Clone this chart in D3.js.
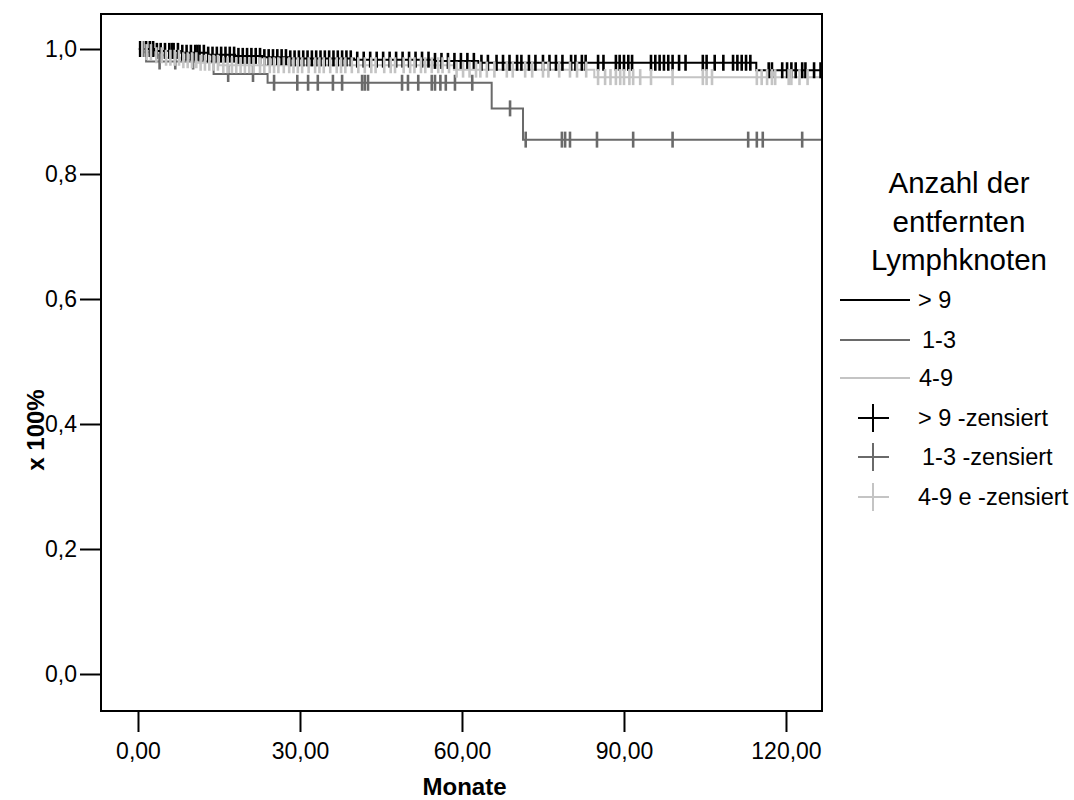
<!DOCTYPE html>
<html><head><meta charset="utf-8">
<script src="https://cdn.jsdelivr.net/npm/d3@7"></script>
<style>body{margin:0;background:#fff}text{font-family:"Liberation Sans",Arial,sans-serif}</style>
</head><body>
<svg id="c" width="1074" height="800"></svg>
<script>
// ---- data ----
const groups = ["> 9", "1-3", "4-9"];
const censorLabels = ["> 9 -zensiert", "1-3 -zensiert", "4-9 e -zensiert"];
const legendTitle = ["Anzahl der", "entfernten", "Lymphknoten"];
const xTicks = [0, 30, 60, 90, 120];
const yTicks = [0, 0.2, 0.4, 0.6, 0.8, 1.0];
const xTitle = "Monate";
const yTitle = "x 100%";

// step functions (time in months, survival)
const gt9Times = [0, 3, 8, 13, 18, 23, 28, 40, 55, 63, 114.5];
const gt9Surv  = [1.0, 0.997, 0.994, 0.991, 0.989, 0.987, 0.985, 0.983, 0.981, 0.978, 0.966];
const g13Times = [0, 1.5, 14, 24, 65.5, 71.3];
const g13Surv  = [1.0, 0.98, 0.96, 0.946, 0.905, 0.855];
const g49Times = [0, 1, 3, 5, 8, 11, 15, 58.5, 84.5];
const g49Surv  = [1.0, 0.995, 0.99, 0.986, 0.982, 0.978, 0.974, 0.967, 0.955];
const gt9End = 126.6, g13End = 126.6, g49End = 126.6;

// censored times
const gt9Cens = [0.4,0.9,1.5,2.2,2.8,3.5,4.2,5.0,5.8,6.3,6.6,7.4,8.2,9.0,9.8,10.6,11.0,11.4,12.2,13.0,13.8,14.6,15.4,16.2,17.0,17.8,18.6,19.4,20.2,21.0,21.8,22.6,23.4,24.2,25.0,25.8,26.6,27.4,28.2,29.0,29.8,30.6,31.4,32.2,33.0,33.8,34.6,35.4,36.2,37.0,37.8,38.6,39.4,40.6,41.8,43.0,44.2,45.4,46.6,47.8,49.0,50.2,51.4,52.6,53.8,55.0,56.2,57.4,58.6,59.8,61.0,62.2,63.6,64.8,66.4,67.6,68.8,70.2,71.0,72.4,73.6,75.0,76.2,77.4,78.6,80.2,81.0,82.2,82.9,85.2,86.2,88.5,89.2,90.0,90.8,91.5,95.0,95.8,96.6,97.4,98.2,99.0,100.2,101.4,104.6,105.3,106.8,108.4,110.2,111.0,111.8,112.6,113.4,116.8,117.4,119.3,120.2,121.0,121.8,123.0,123.6,125.2,126.4];
const g13Cens = [4.0,6.9,10.2,16.7,21.3,25.2,29.5,31.5,33.3,36.1,37.8,41.5,42.0,42.6,48.9,50.0,51.9,54.4,55.0,56.0,57.0,58.7,61.9,68.9,71.8,78.5,79.1,80.0,85.0,91.7,99.0,113.0,114.6,115.7,123.0];
const g49Cens = [0.8,1.6,2.4,3.4,4.4,5.2,6.0,6.8,7.6,8.4,9.2,10.0,10.8,11.6,12.4,13.2,14.0,14.8,15.8,16.6,17.4,18.2,19.0,19.8,20.6,21.4,22.6,23.4,24.4,25.2,26.0,27.0,28.0,28.8,29.6,30.4,31.6,32.8,33.6,34.4,35.6,36.8,37.6,38.4,39.6,40.8,42.0,43.2,44.0,45.6,46.8,47.6,49.2,50.4,51.2,52.4,53.2,54.4,55.6,56.4,57.6,59.0,60.2,61.4,62.6,63.4,64.6,66.0,68.3,69.4,71.7,73.0,75.0,76.0,78.0,80.0,81.3,83.0,85.2,86.5,87.5,88.5,89.3,90.0,91.0,91.7,93.0,95.0,99.0,104.6,105.3,106.3,114.6,115.5,116.5,117.4,118.0,120.5,121.0,122.5,124.0];

const colors = ["#000000", "#6a6a6a", "#c4c4c4"];

// ---- layout ----
const svg = d3.select("#c");
const L = 101, R = 822, T = 14, B = 711;
const x = d3.scaleLinear().domain([-6.85, 126.67]).range([L, R]);
const y = d3.scaleLinear().domain([-0.0592, 1.056]).range([B, T]);

const series = [
  {times: gt9Times, surv: gt9Surv, end: gt9End, cens: gt9Cens, color: colors[0]},
  {times: g13Times, surv: g13Surv, end: g13End, cens: g13Cens, color: colors[1]},
  {times: g49Times, surv: g49Surv, end: g49End, cens: g49Cens, color: colors[2]}
];
function survAt(s, t){ let v = s.surv[0]; for(let i=0;i<s.times.length;i++){ if(s.times[i] <= t) v = s.surv[i]; } return v; }

const line = d3.line().x(d=>x(d[0])).y(d=>y(d[1])).curve(d3.curveStepAfter);
const plot = svg.append("g");
series.forEach(s=>{
  const pts = s.times.map((t,i)=>[t, s.surv[i]]);
  pts.push([s.end, s.surv[s.surv.length-1]]);
  plot.append("path").attr("d", line(pts)).attr("fill","none").attr("stroke", s.color).attr("stroke-width",2);
});
series.forEach(s=>{
  plot.selectAll(null).data(s.cens).enter().append("line")
    .attr("x1", d=>x(d)).attr("x2", d=>x(d))
    .attr("y1", d=>y(survAt(s,d))-8).attr("y2", d=>y(survAt(s,d))+8)
    .attr("stroke", s.color).attr("stroke-width", 2.6);
});

// axes
const fmtY = d => d.toFixed(1).replace(".", ",");
const fmtX = d => d.toFixed(2).replace(".", ",");
const ya = svg.append("g").attr("transform", `translate(${L},0)`)
  .call(d3.axisLeft(y).tickValues(yTicks).tickSize(21).tickPadding(3).tickFormat(fmtY));
const xa = svg.append("g").attr("transform", `translate(0,${B})`)
  .call(d3.axisBottom(x).tickValues(xTicks).tickSize(21).tickPadding(11).tickFormat(fmtX));
[ya, xa].forEach(a=>{
  a.select(".domain").remove();
  a.selectAll(".tick line").attr("stroke","#000").attr("stroke-width",2);
  a.selectAll(".tick text").attr("fill","#000").style("font-size","23px").style("font-family",'"Liberation Sans",Arial,sans-serif');
});
svg.append("rect").attr("x", L).attr("y", T).attr("width", R-L).attr("height", B-T)
  .attr("fill","none").attr("stroke","#000").attr("stroke-width",2);

svg.append("text").attr("x", (L+R)/2+3).attr("y", 795).attr("text-anchor","middle")
  .style("font-size","24px").style("font-weight","bold").text(xTitle);
svg.append("text").attr("transform","translate(44,430) rotate(-90)").attr("text-anchor","middle")
  .style("font-size","24px").style("font-weight","bold").text(yTitle);

// legend
const lg = svg.append("g");
legendTitle.forEach((t,i)=>{
  lg.append("text").attr("x", 959).attr("y", 193 + i*38.5).attr("text-anchor","middle")
    .style("font-size","29.5px").text(t);
});
const lineY = [300, 340, 378];
const lineTx = [918, 922, 919];
groups.forEach((g,i)=>{
  lg.append("line").attr("x1",840).attr("x2",910).attr("y1",lineY[i]).attr("y2",lineY[i])
    .attr("stroke", colors[i]).attr("stroke-width",2);
  lg.append("text").attr("x", lineTx[i]).attr("y", lineY[i]+8).style("font-size","23.5px").text(g);
});
const cY = [418, 457, 497];
const cTx = [918, 922, 918];
censorLabels.forEach((g,i)=>{
  lg.append("line").attr("x1",858).attr("x2",889).attr("y1",cY[i]).attr("y2",cY[i]).attr("stroke",colors[i]).attr("stroke-width",2);
  lg.append("line").attr("x1",873).attr("x2",873).attr("y1",cY[i]-14).attr("y2",cY[i]+14).attr("stroke",colors[i]).attr("stroke-width",2);
  lg.append("text").attr("x", cTx[i]).attr("y", cY[i]+8).style("font-size","23.5px").text(g);
});
</script>
</body></html>
